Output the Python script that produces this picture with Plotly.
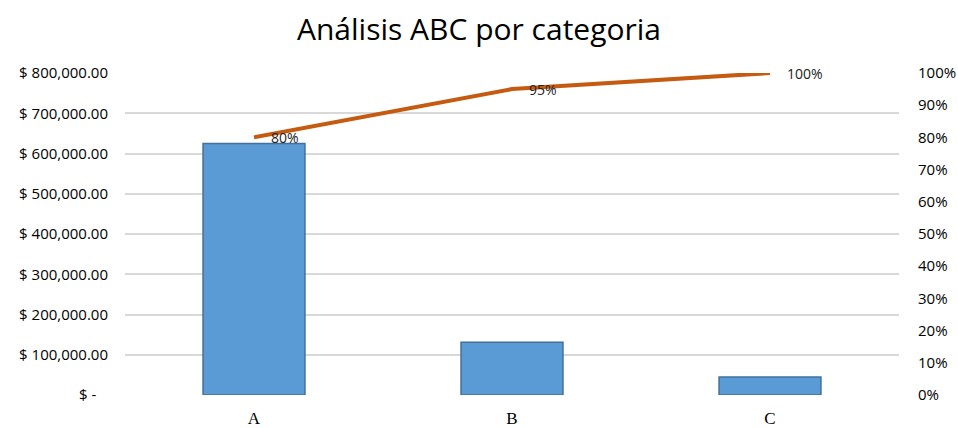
import plotly.graph_objects as go

# ABC analysis data
categories = ["A", "B", "C"]
sales = [625000, 131000, 45000]
cumulative_pct = [0.80, 0.95, 1.00]
pct_labels = ["80%", "95%", "100%"]

left_tickvals = [0, 100000, 200000, 300000, 400000, 500000, 600000, 700000, 800000]
left_ticktext = ["$ -   ", "$ 100,000.00", "$ 200,000.00", "$ 300,000.00", "$ 400,000.00",
                 "$ 500,000.00", "$ 600,000.00", "$ 700,000.00", "$ 800,000.00"]
right_tickvals = [i / 10 for i in range(11)]
right_ticktext = [f"{i * 10}%" for i in range(11)]

TICK_FONT = dict(family="Open Sans, sans-serif", size=15, color="#000000")

fig = go.Figure()

fig.add_trace(go.Bar(
    x=categories, y=sales,
    marker=dict(color="#5b9bd5", line=dict(color="#41719c", width=1.5)),
    width=0.395,
    yaxis="y",
    showlegend=False,
))

fig.add_trace(go.Scatter(
    x=categories, y=cumulative_pct,
    mode="lines",
    line=dict(color="#c55a11", width=4),
    yaxis="y2",
    showlegend=False,
    cliponaxis=False,
))

# Percentage labels to the right of each cumulative point
annotations = [
    dict(x=c, y=p, xref="x", yref="y2", text=t, showarrow=False,
         xanchor="left", yanchor="middle", xshift=15, yshift=0,
         font=dict(family="Open Sans, sans-serif", size=14, color="#222222"))
    for c, p, t in zip(categories, cumulative_pct, pct_labels)
]

fig.update_layout(
    width=958, height=428,
    margin=dict(l=125, r=59, t=73, b=33),
    paper_bgcolor="white", plot_bgcolor="white",
    title=dict(text="Análisis ABC por categoria", x=0.5, xanchor="center",
               y=0.93, yanchor="middle",
               font=dict(family="Open Sans, sans-serif", size=30, color="#000000")),
    xaxis=dict(
        tickfont=dict(family="Liberation Serif, serif", size=17, color="#000000"),
        showgrid=False, showline=False, ticks="", ticklabelstandoff=11,
        automargin=False,
    ),
    yaxis=dict(
        range=[0, 800000], tickvals=left_tickvals, ticktext=left_ticktext,
        tickfont=TICK_FONT,
        showgrid=True, gridcolor="#d9d9d9", gridwidth=1.5,
        zeroline=False, showline=False, ticks="", ticklabelstandoff=16,
        automargin=False,
    ),
    yaxis2=dict(
        range=[0, 1], tickvals=right_tickvals, ticktext=right_ticktext,
        overlaying="y", side="right",
        tickfont=TICK_FONT,
        showgrid=False, zeroline=False, showline=False, ticks="", ticklabelstandoff=18,
        automargin=False,
    ),
    annotations=annotations,
)

fig.write_html("out.html")
